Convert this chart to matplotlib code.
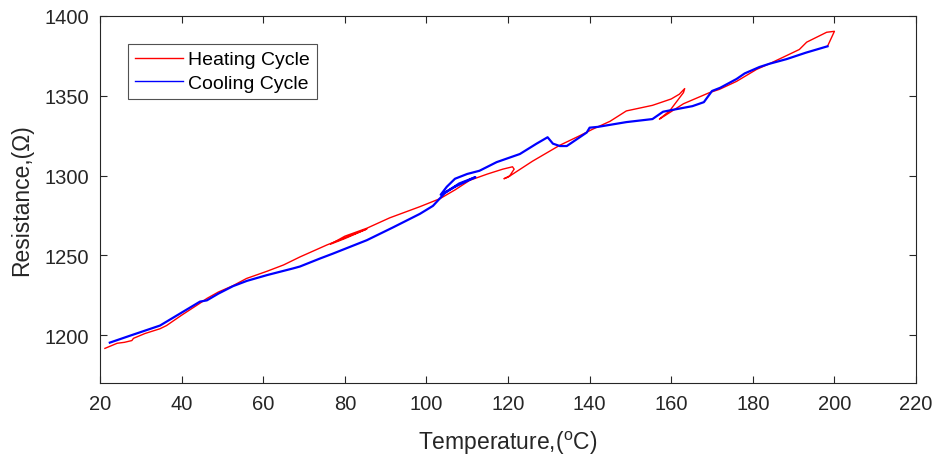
import matplotlib
matplotlib.use("Agg")
import matplotlib.pyplot as plt

plt.rcParams['font.family'] = ['Liberation Sans', 'DejaVu Sans']

# Heating cycle (temperature degC, resistance Ohm)
heat_t = [21.2, 24.2, 26.0, 27.8, 28.2, 31.0, 34.7, 36.3, 40.0, 44.5, 46.2, 49.0,
          52.6, 55.9, 60.9, 65.0, 69.0, 75.6, 80.0, 85.4, 80.0, 76.5, 80.0, 85.4,
          91.0, 98.4, 103.3, 107.0, 110.6, 115.0, 118.7, 121.1, 121.5, 120.4, 119.0,
          120.0, 126.0, 132.7, 137.6, 140.7, 145.0, 149.0, 155.4, 160.0, 162.0, 163.3,
          163.0, 159.6, 157.1, 157.5, 163.0, 169.4, 171.8, 176.0, 180.9, 184.0, 187.3,
          191.4, 193.2, 198.1, 200.0, 198.3]
heat_r = [1191.7, 1194.9, 1195.5, 1196.6, 1198.0, 1201.0, 1204.0, 1206.0, 1212.5, 1220.0,
          1223.0, 1227.0, 1231.0, 1235.5, 1240.0, 1244.0, 1249.0, 1256.5, 1261.0, 1266.5,
          1260.5, 1257.0, 1262.0, 1267.0, 1273.5, 1280.5, 1285.5, 1291.0, 1297.0, 1301.0,
          1304.0, 1305.5, 1304.0, 1299.8, 1298.0, 1299.0, 1309.0, 1319.0, 1325.0, 1329.0,
          1334.0, 1340.5, 1344.0, 1348.0, 1351.0, 1354.5, 1352.0, 1340.5, 1335.4, 1336.0,
          1345.0, 1352.0, 1354.0, 1359.0, 1366.5, 1370.0, 1374.0, 1379.0, 1383.6, 1389.8,
          1390.4, 1381.0]

# Cooling cycle
cool_t = [198.3, 193.0, 188.3, 184.0, 181.6, 178.0, 176.0, 172.0, 170.0, 168.0, 165.2,
          160.0, 158.0, 155.4, 149.0, 142.0, 140.0, 139.3, 134.4, 132.7, 131.0, 129.7,
          127.0, 122.9, 117.2, 113.0, 110.0, 107.0, 105.0, 103.5, 107.0, 112.0, 108.0,
          104.5, 101.6, 98.4, 91.8, 85.4, 77.0, 73.9, 69.0, 67.3, 60.9, 56.0, 52.6,
          49.0, 46.2, 44.5, 39.6, 34.7, 27.3, 22.4]
cool_r = [1381.0, 1377.0, 1373.0, 1370.0, 1368.0, 1364.0, 1360.5, 1355.0, 1353.0, 1346.0,
          1343.5, 1341.0, 1340.0, 1335.4, 1333.5, 1330.5, 1330.0, 1327.0, 1318.5, 1318.5,
          1320.0, 1324.0, 1320.0, 1313.5, 1308.4, 1303.0, 1301.0, 1298.0, 1293.0, 1288.0,
          1293.0, 1299.0, 1295.0, 1289.0, 1281.0, 1276.0, 1267.5, 1259.5, 1251.0, 1248.0,
          1243.0, 1241.8, 1237.6, 1234.0, 1230.7, 1226.0, 1221.8, 1221.0, 1213.5, 1206.0,
          1199.6, 1195.3]

x_ticks = [20, 40, 60, 80, 100, 120, 140, 160, 180, 200, 220]
y_ticks = [1200, 1250, 1300, 1350, 1400]

fig = plt.figure(figsize=(9.4, 4.64), dpi=100)
ax = fig.add_axes([0.1064, 0.1724, 0.8681, 0.7910])

ax.plot(heat_t, heat_r, color='#ff0000', lw=1.0, label='Heating Cycle')
ax.plot(cool_t, cool_r, color='#0000ff', lw=1.6, label='Cooling Cycle')

ax.set_xlim(20, 220)
ax.set_ylim(1170, 1400)
ax.set_xticks(x_ticks)
ax.set_yticks(y_ticks)

edge = '#262626'
for s in ax.spines.values():
    s.set_color(edge)
    s.set_linewidth(0.8)
ax.tick_params(direction='in', length=5, width=0.8, colors=edge,
               top=True, right=True, labelsize=14.5, pad=8, labelcolor='#262626')

ax.set_xlabel('Temperature,($\\mathregular{^{o}}$C)', fontsize=16.5, color='#262626', labelpad=11)
ax.set_ylabel('Resistance,(\u03a9)', fontsize=16.5, color='#262626', labelpad=8)

leg = ax.legend(loc='upper left', bbox_to_anchor=(0.0343, 0.9237), borderaxespad=0,
                fontsize=14, frameon=True, fancybox=False, handlelength=2.5,
                handletextpad=0.25, borderpad=0.35, labelspacing=0.3)
leg.get_frame().set_edgecolor('#262626')
leg.get_frame().set_linewidth(0.8)
for h in leg.get_lines():
    h.set_linewidth(1.0)

fig.savefig('out.png', dpi=100)
